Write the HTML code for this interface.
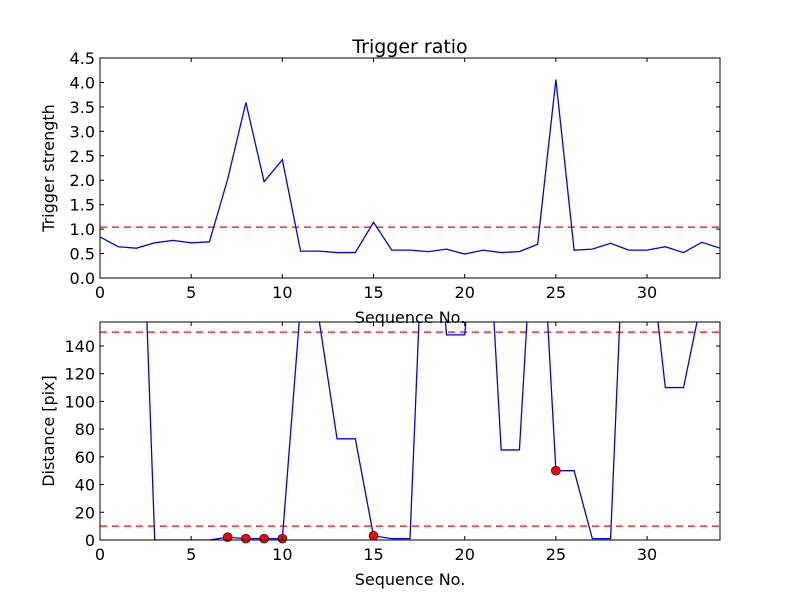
<!DOCTYPE html>
<html><head><meta charset="utf-8"><style>body{margin:0;background:#fff}svg{font-family:"DejaVu Sans","Liberation Sans",sans-serif}</style></head>
<body>
<svg id="c" width="800" height="600" xmlns="http://www.w3.org/2000/svg">
<rect width="800" height="600" fill="#fff"/>
</svg>
<script>
const seq=[0,1,2,3,4,5,6,7,8,9,10,11,12,13,14,15,16,17,18,19,20,21,22,23,24,25,26,27,28,29,30,31,32,33,34];
const strength=[0.84,0.64,0.61,0.72,0.77,0.72,0.74,2.02,3.59,1.97,2.42,0.55,0.55,0.52,0.52,1.14,0.57,0.57,0.54,0.59,0.49,0.57,0.52,0.54,0.69,4.06,0.57,0.59,0.71,0.57,0.57,0.64,0.52,0.73,0.61];
const strengthThreshold=1.04;
const distance=[400,400,370,0,0,0,0,2,1,1,1,170,160,73,73,3,1,1,320,148,148,300,65,65,289,50,50,1,1,313,228,110,110,174,200];
const triggerSeq=[7,8,9,10,15,25];
const triggerDist=[2,1,1,1,3,50];
const distThresholds=[10,150];
const topYTicks=[0,0.5,1,1.5,2,2.5,3,3.5,4,4.5];
const botYTicks=[0,20,40,60,80,100,120,140];
const xTicks=[0,5,10,15,20,25,30];

const svg=document.getElementById('c');const NS='http://www.w3.org/2000/svg';
function el(t,a,p){const e=document.createElementNS(NS,t);for(const k in a)e.setAttribute(k,a[k]);(p||svg).appendChild(e);return e;}
function panel(name,top,bot,ymax,yTicks,fmt,ylabel){
  const L=100,R=720,xmin=0,xmax=34;
  const X=v=>L+(v-xmin)/(xmax-xmin)*(R-L);
  const Y=v=>bot-v/ymax*(bot-top);
  const g=el('g',{});
  const cid='clip-'+name;
  const cp=el('clipPath',{id:cid},g);el('rect',{x:L,y:top,width:R-L,height:bot-top},cp);
  const plot=el('g',{'clip-path':'url(#'+cid+')'},g);
  return {g,plot,X,Y,L,R,top,bot,
    frame(){
      const f=el('rect',{x:L,y:top,width:R-L,height:bot-top,fill:'none',stroke:'#000','stroke-width':1},g);
      
      xTicks.forEach(t=>{const x=X(t);
        el('line',{x1:x,x2:x,y1:bot,y2:bot-4,stroke:'#000'},g);el('line',{x1:x,x2:x,y1:top,y2:top+4,stroke:'#000'},g);
        const tx=el('text',{x:x,y:bot+20,'text-anchor':'middle','font-size':16},g);tx.textContent=t;
        });
      yTicks.forEach(t=>{const y=Y(t);
        el('line',{x1:L,x2:L+4,y1:y,y2:y,stroke:'#000'},g);el('line',{x1:R,x2:R-4,y1:y,y2:y,stroke:'#000'},g);
        const tx=el('text',{x:L-5,y:y+6,'text-anchor':'end','font-size':16},g);tx.textContent=fmt(t);
        });
      const xl=el('text',{x:(L+R)/2,y:bot+45,'text-anchor':'middle','font-size':16},g);xl.textContent='Sequence No.';
      
      const yl=el('text',{x:0,y:0,'text-anchor':'middle','font-size':16,transform:`translate(${L-46},${(top+bot)/2}) rotate(-90)`},g);yl.textContent=ylabel;
      
    }};
}
function hline(p,v,name){const l=el('line',{x1:p.L,x2:p.R,y1:p.Y(v),y2:p.Y(v),stroke:'#f00','stroke-width':1.2,'stroke-dasharray':'7,5'},p.plot);
  }
function series(p,xs,ys,name){const d=xs.map((x,i)=>(i?'L':'M')+p.X(x)+','+p.Y(ys[i])).join('');
  const l=el('path',{d,fill:'none',stroke:'#00f','stroke-width':1.3},p.plot);
  }

const t=el('text',{x:410,y:53,'text-anchor':'middle','font-size':19});t.textContent='Trigger ratio';


const p1=panel('top-panel',58,278,4.5,topYTicks,v=>v.toFixed(1),'Trigger strength');
hline(p1,strengthThreshold,'strength-threshold');
series(p1,seq,strength,'trigger-strength-line');
p1.frame();

const p2=panel('bottom-panel',322,540,157.3,botYTicks,v=>String(v),'Distance [pix]');
distThresholds.forEach(v=>hline(p2,v,'distance-threshold'));
series(p2,seq,distance,'distance-line');
triggerSeq.forEach((s,i)=>{const c=el('circle',{cx:p2.X(s),cy:p2.Y(triggerDist[i]),r:4.5,fill:'#f00',stroke:'#000','stroke-width':0.6},p2.g);
  });
p2.frame();
</script>
</body></html>
